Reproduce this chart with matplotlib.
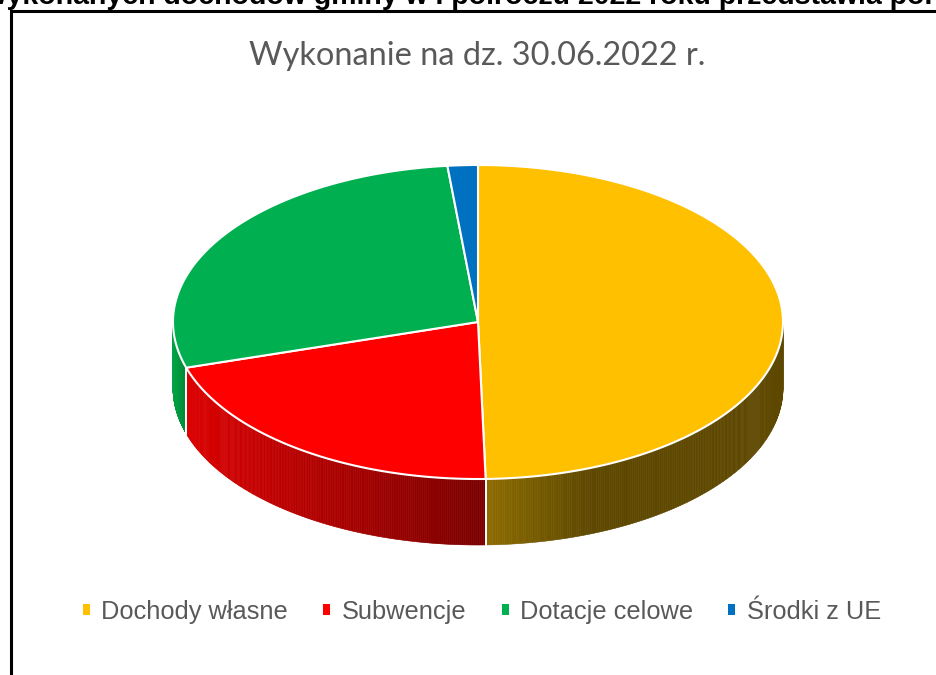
import numpy as np
import matplotlib
matplotlib.use("Agg")
import matplotlib.pyplot as plt
from matplotlib.collections import PolyCollection
from matplotlib.patches import Polygon, Rectangle, Patch
from matplotlib.colors import to_rgb

# data (share of revenue, %)
labels = ["Dochody własne", "Subwencje", "Dotacje celowe", "Środki z UE"]
values = [49.6, 20.7, 28.1, 1.6]
top_colors = ["#FFC000", "#FF0000", "#00B050", "#0070C0"]
side_light = ["#8E6C00", "#DC0000", "#00A444", "#005A9E"]
side_dark = ["#5E4800", "#7A0000", "#008A38", "#003F70"]

title = "Wykonanie na dz. 30.06.2022 r."
header = "Strukturę wykonanych dochodów gminy w I półroczu 2022 roku przedstawia poniższy wykres"
header_tail = "przedstawia poniższy wykres"

# geometry of the 3d pie (pixels)
cx, cy, rx, ry, depth = 478, 322, 305, 157, 66
W, H = 936, 675


def pt(theta):
    t = np.radians(theta)
    return cx + rx * np.cos(t), cy - ry * np.sin(t)


fig = plt.figure(figsize=(9.36, 6.75), dpi=100)
ax = fig.add_axes([0, 0, 1, 1])
ax.set_xlim(0, W)
ax.set_ylim(H, 0)
ax.axis("off")

# frame around the chart, running off the right/bottom edge
fig.patches.append(Rectangle((11 / W, -0.1), 1.1, 1 - 11 / H + 0.1,
                             transform=fig.transFigure, fill=False,
                             edgecolor="black", linewidth=2.2, clip_on=False))

# header text clipped by the top of the picture
hdr_kw = dict(fontsize=20.5, fontweight="bold", family="Liberation Sans", color="black")
renderer = fig.canvas.get_renderer()
t_full = fig.text(0, 0, header, **hdr_kw)
t_tail = fig.text(0, 0, header_tail, **hdr_kw)
w_full = t_full.get_window_extent(renderer).width
w_tail = t_tail.get_window_extent(renderer).width
t_tail.remove()
# "przedstawia" starts at about x = 719 px in the reference
t_full.set_position(((719 - (w_full - w_tail)) / W, 1 - 3.5 / H))
t_full.set_va("baseline")

fig.text(477 / W, 1 - 65 / H, title, ha="center", va="baseline",
         fontsize=23.4, family="Lato", color="#595959")

total = sum(values)
starts, ends = [], []
a = 90.0
for v in values:
    starts.append(a)
    a -= 360.0 * v / total
    ends.append(a)

# side walls (only the front half, -180..0 deg, is visible)
for i in range(len(values)):
    lo, hi = max(ends[i], -180.0), min(starts[i], 0.0)
    if hi <= lo:
        continue
    angs = np.linspace(lo, hi, 200)
    xs = np.array([pt(t)[0] for t in angs])
    x0, x1 = xs.min(), xs.max()
    polys, cols = [], []
    c_light, c_dark = np.array(to_rgb(side_light[i])), np.array(to_rgb(side_dark[i]))
    for j in range(len(angs) - 1):
        xa, ya = pt(angs[j])
        xb, yb = pt(angs[j + 1])
        polys.append([(xa, ya), (xb, yb), (xb, yb + depth), (xa, ya + depth)])
        f = ((xa + xb) / 2 - x0) / max(x1 - x0, 1)
        if i == 0:
            f = min(f / 0.35, 1.0)
        cols.append(c_light * (1 - f) + c_dark * f)
    ax.add_collection(PolyCollection(polys, facecolors=cols, edgecolors=cols, linewidths=0.4))
    # white seams on the wall at slice boundaries
    for t in (lo, hi):
        if -180 < t < 0:
            x, y = pt(t)
            ax.plot([x, x], [y, y + depth], color="white", lw=1.2)

# top of the pie
for i in range(len(values)):
    angs = np.linspace(starts[i], ends[i], 200)
    verts = [(cx, cy)] + [pt(t) for t in angs]
    ax.add_patch(Polygon(verts, closed=True, facecolor=top_colors[i],
                         edgecolor="white", linewidth=1.5, joinstyle="round"))

# legend
handles = [Patch(facecolor=c, edgecolor="none") for c in top_colors]
leg = ax.legend(handles, labels, loc="center", bbox_to_anchor=(482 / W, 1 - 612 / H),
                ncol=4, frameon=False, handlelength=0.28, handleheight=0.28,
                handletextpad=0.45, columnspacing=1.38,
                prop={"family": "Liberation Sans", "size": 18.3})
for txt in leg.get_texts():
    txt.set_color("#595959")

fig.savefig("out.png", dpi=100, facecolor="white")
